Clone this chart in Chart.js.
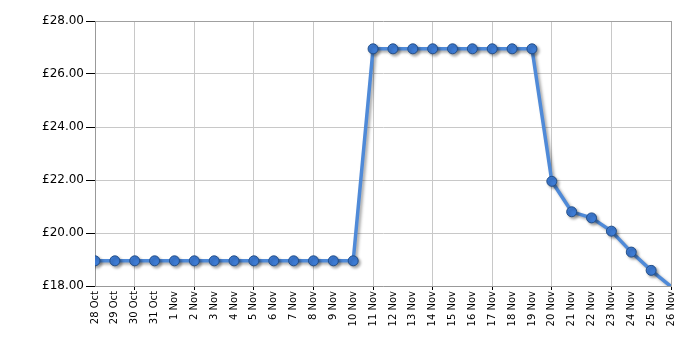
<!DOCTYPE html>
<html>
<head>
<meta charset="utf-8">
<style>
  html, body { margin: 0; padding: 0; background: #fff; }
  #wrap { width: 700px; height: 350px; }
</style>
<script src="https://cdn.jsdelivr.net/npm/chart.js@4/dist/chart.umd.min.js"></script>
</head>
<body>
<div id="wrap"><canvas id="c" width="700" height="350"></canvas></div>
<script>
const categories = ['28 Oct','29 Oct','30 Oct','31 Oct','1 Nov','2 Nov','3 Nov','4 Nov','5 Nov','6 Nov',
  '7 Nov','8 Nov','9 Nov','10 Nov','11 Nov','12 Nov','13 Nov','14 Nov','15 Nov','16 Nov',
  '17 Nov','18 Nov','19 Nov','20 Nov','21 Nov','22 Nov','23 Nov','24 Nov','25 Nov','26 Nov'];
const prices = [18.95,18.95,18.95,18.95,18.95,18.95,18.95,18.95,18.95,18.95,
  18.95,18.95,18.95,18.95,26.95,26.95,26.95,26.95,26.95,26.95,
  26.95,26.95,26.95,21.95,20.80,20.57,20.07,19.28,18.59,17.98];
const yTicks = [18,20,22,24,26,28];

const shadowPlugin = {
  id: 'shadow',
  beforeDatasetsDraw(chart) {
    const ctx = chart.ctx;
    ctx.save();
    ctx.shadowColor = 'rgba(0,0,0,0.35)';
    ctx.shadowBlur = 3;
    ctx.shadowOffsetX = 2;
    ctx.shadowOffsetY = 2;
  },
  afterDatasetsDraw(chart) {
    chart.ctx.restore();
  }
};

new Chart(document.getElementById('c'), {
  type: 'line',
  data: {
    labels: categories,
    datasets: [{
      data: prices,
      borderColor: '#4f8ad8',
      borderWidth: 3.5,
      pointBackgroundColor: '#3d7bd4',
      pointBorderColor: '#244f88',
      pointBorderWidth: 1,
      pointRadius: c => (c.raw < 18 ? 0 : 5),
      pointHoverRadius: 5,
      tension: 0,
      fill: false,
      clip: 0
    }]
  },
  options: {
    responsive: false,
    animation: false,
    events: [],
    layout: { padding: { top: 21, right: 29, left: 0, bottom: 0 } },
    plugins: { legend: { display: false }, tooltip: { enabled: false } },
    scales: {
      x: {
        type: 'category',
        offset: false,
        afterFit: s => { s.height = 64; },
        border: { display: true, color: '#999999', width: 1 },
        grid: {
          drawOnChartArea: true,
          color: c => (c.index === categories.length - 1 ? '#a0a0a0' : (c.index % 3 === 2 ? '#c8c8c8' : 'rgba(0,0,0,0)')),
          tickColor: c => (c.index % 3 === 2 ? '#000000' : 'rgba(0,0,0,0)'),
          tickLength: 4,
          lineWidth: 1
        },
        ticks: {
          autoSkip: false,
          maxRotation: 90,
          minRotation: 90,
          padding: 1,
          color: '#000000',
          font: { family: 'DejaVu Sans', size: 10 }
        }
      },
      y: {
        min: 18,
        max: 28,
        afterFit: s => { s.width = 95; },
        afterBuildTicks: s => { s.ticks = yTicks.map(v => ({ value: v })); },
        border: { display: true, color: '#999999', width: 1 },
        grid: {
          color: c => (c.tick && c.tick.value === 28 ? '#a0a0a0' : '#c8c8c8'),
          tickColor: '#000000',
          tickLength: 9,
          lineWidth: 1
        },
        ticks: {
          padding: 2,
          color: '#000000',
          font: { family: 'DejaVu Sans', size: 12 },
          callback: v => '£' + Number(v).toFixed(2)
        }
      }
    }
  },
  plugins: [shadowPlugin]
});
</script>
</body>
</html>
